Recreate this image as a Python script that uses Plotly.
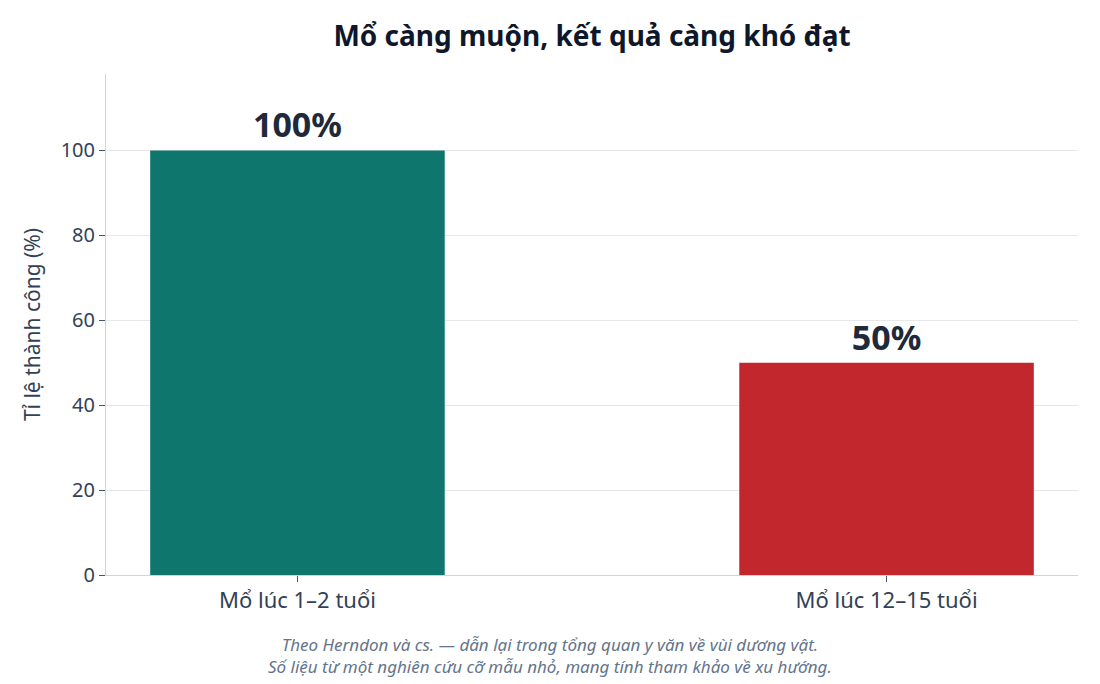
import plotly.graph_objects as pg

# %%

categories = ["Mổ lúc 1–2 tuổi", "Mổ lúc 12–15 tuổi"]
success_rate = [100, 50]
bar_labels = ["100%", "50%"]
bar_colors = ["#0f766e", "#c1272d"]
y_ticks = [0, 20, 40, 60, 80, 100]
note_lines = [
    "Theo Herndon và cs. — dẫn lại trong tổng quan y văn về vùi dương vật.",
    "Số liệu từ một nghiên cứu cỡ mẫu nhỏ, mang tính tham khảo về xu hướng.",
]

# %%

font_family = "Noto Sans, Open Sans, sans-serif"
dark = "#1e293b"

fig = pg.Figure()
fig.add_trace(
    pg.Bar(
        x=categories,
        y=success_rate,
        width=0.5,
        marker=dict(color=bar_colors, line=dict(width=0)),
        text=bar_labels,
        textposition="outside",
        cliponaxis=False,
        textfont=dict(size=34, color=dark, family=font_family, weight="bold"),
        hoverinfo="skip",
    )
)

fig.update_layout(
    width=1100,
    height=684,
    plot_bgcolor="white",
    paper_bgcolor="white",
    font=dict(family=font_family, color="#334155", size=20),
    title=dict(
        text="<b>Mổ càng muộn, kết quả càng khó đạt</b>",
        xref="paper",
        x=0.5,
        xanchor="center",
        y=0.947,
        yanchor="middle",
        font=dict(size=28, color="#0f172a"),
    ),
    margin=dict(l=106, r=22, t=74, b=109),
    showlegend=False,
)

fig.update_yaxes(
    range=[0, 118],
    tickvals=y_ticks,
    showgrid=True,
    gridcolor="#e5e7eb",
    zeroline=False,
    showline=True,
    linecolor="#cbd5e1",
    ticks="outside",
    ticklen=6,
    tickcolor="#475569",
    tickfont=dict(size=20, color="#334155"),
    title=dict(text="Tỉ lệ thành công (%)", font=dict(size=21, color="#334155"), standoff=14),
)
fig.update_xaxes(
    range=[-0.325, 1.325],
    showline=True,
    linecolor="#cbd5e1",
    ticks="outside",
    ticklen=6,
    tickcolor="#475569",
    tickfont=dict(size=22, color="#334155"),
)

# footnote sits under the middle of the page, not the plot area
fig.add_annotation(
    text="<br>".join(note_lines),
    xref="paper",
    yref="paper",
    x=0.457,
    y=-0.112,
    xanchor="center",
    yanchor="top",
    showarrow=False,
    font=dict(size=17, color="#64748b", style="italic"),
)

# page body has an 8px default margin, drop it so the figure sits at 0,0
fig.write_html(
    "out.html",
    config={"displayModeBar": False},
    post_script="document.body.style.margin='0';",
)
